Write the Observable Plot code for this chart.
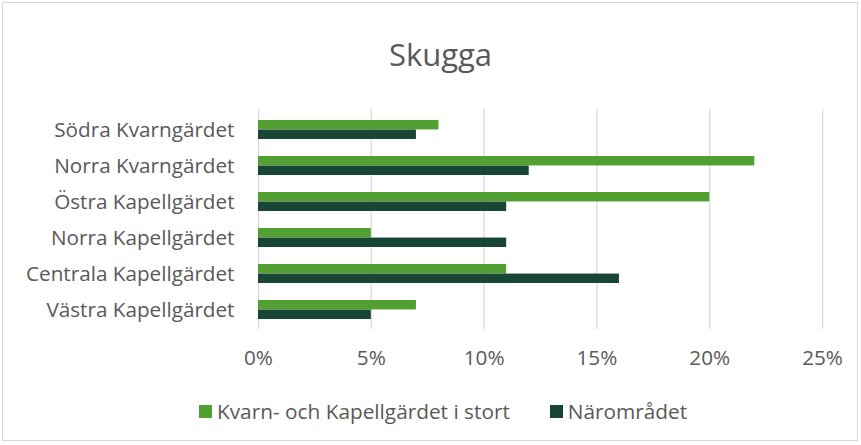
<!DOCTYPE html>
<html>
<head>
<meta charset="utf-8">
<script src="https://cdn.jsdelivr.net/npm/d3@7"></script>
<script src="https://cdn.jsdelivr.net/npm/@observablehq/plot@0.6"></script>
<style>
  html, body { margin: 0; padding: 0; background: #fff; }
  #wrap { position: relative; width: 861px; height: 445px; overflow: hidden; font-family: "Open Sans", sans-serif; color: #595959; }
  #frame { position: absolute; left: 2px; top: 2px; width: 854px; height: 437px; border: 1px solid #d9d9d9; }
  #title { position: absolute; left: 0; width: 881px; top: 34px; text-align: center; font-size: 31px; line-height: 40px; }
  #chart { position: absolute; left: 0; top: 95px; }
  #legend { position: absolute; left: 199px; top: 398px; display: flex; align-items: center; font-size: 20.8px; line-height: 26px; }
  .item { display: flex; align-items: center; margin-right: 40px; }
  .sw { width: 13px; height: 13px; margin-right: 5px; }
</style>
</head>
<body>
<div id="wrap">
  <div id="frame"></div>
  <div id="title"></div>
  <div id="chart"></div>
  <div id="legend"></div>
</div>
<script>
const title = "Skugga";
const categories = ["Södra Kvarngärdet", "Norra Kvarngärdet", "Östra Kapellgärdet", "Norra Kapellgärdet", "Centrala Kapellgärdet", "Västra Kapellgärdet"];
const series = ["Kvarn- och Kapellgärdet i stort", "Närområdet"];
const storValues = [8, 22, 20, 5, 11, 7];
const naraValues = [7, 12, 11, 11, 16, 5];
const xTicks = [0, 5, 10, 15, 20, 25];
const colors = ["#52a032", "#184535"];

document.getElementById("title").textContent = title;

const stor = categories.map((c, i) => ({category: c, series: series[0], value: storValues[i] / 100}));
const nara = categories.map((c, i) => ({category: c, series: series[1], value: naraValues[i] / 100}));

const half = 9.55;
const plot = Plot.plot({
  width: 861,
  height: 280,
  marginLeft: 258,
  marginRight: 39,
  marginTop: 14,
  marginBottom: 46,
  style: {fontFamily: "'Open Sans', sans-serif", fontSize: "20.7px", color: "#595959", background: "transparent"},
  x: {domain: [0, 0.25]},
  y: {domain: categories, paddingInner: 0.48, paddingOuter: 0.24},
  color: {domain: series, range: colors},
  marks: [
    Plot.gridX(xTicks.map(d => d / 100), {stroke: "#d9d9d9", strokeOpacity: 1, strokeWidth: 1.3}),
    Plot.barX(stor, {x: "value", y: "category", fill: "series", insetBottom: half, insetTop: 0}),
    Plot.barX(nara, {x: "value", y: "category", fill: "series", insetTop: half, insetBottom: 0}),
    Plot.axisX(xTicks.map(d => d / 100), {tickSize: 0, tickPadding: 21, tickFormat: d => Math.round(d * 100) + "%", label: null}),
    Plot.axisY({tickSize: 0, tickPadding: 24, label: null})
  ]
});
document.getElementById("chart").appendChild(plot);

const legend = document.getElementById("legend");
series.forEach((s, i) => {
  const item = document.createElement("div");
  item.className = "item";
  const sw = document.createElement("div");
  sw.className = "sw";
  sw.style.background = colors[i];
  const t = document.createElement("span");
  t.textContent = s;
  item.appendChild(sw);
  item.appendChild(t);
  legend.appendChild(item);
});
</script>
</body>
</html>
